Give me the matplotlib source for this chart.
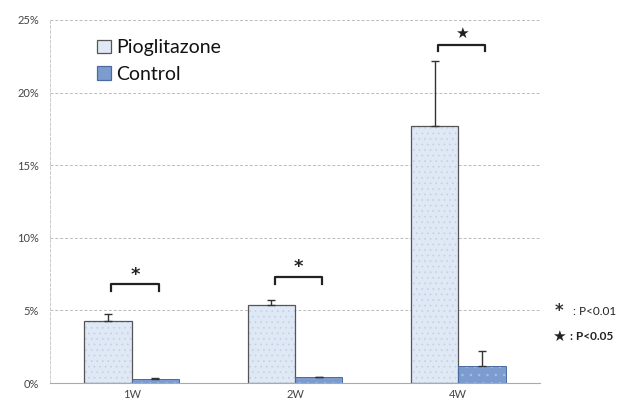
import matplotlib
matplotlib.use("Agg")
import matplotlib.pyplot as plt
import numpy as np
from matplotlib.ticker import FuncFormatter
from matplotlib.patches import Patch

plt.rcParams['font.family'] = ['Lato', 'DejaVu Sans']
plt.rcParams['hatch.linewidth'] = 0.5

categories = ["1W", "2W", "4W"]
pio = [4.3, 5.4, 17.7]
pio_err = [0.45, 0.3, 4.5]
ctrl = [0.3, 0.4, 1.2]
ctrl_err = [0.05, 0.05, 1.0]
yticks = [0, 5, 10, 15, 20, 25]
bracket_y = [6.8, 7.3, 23.3]
sig_marks = ["*", "*", "★"]

fig = plt.figure(figsize=(6.33, 4.05), dpi=100)
ax = fig.add_axes([0.079, 0.054, 0.774, 0.897])

x = np.arange(len(categories))
w = 0.29
# fills with subtle texture
ax.bar(x - w/2, pio, w, color="#dfe8f5", edgecolor="#c3d0e6", linewidth=0,
       hatch="...", zorder=3)
ax.bar(x + w/2, ctrl, w, color="#7c9cd0", edgecolor="#a9bfe4", linewidth=0,
       hatch="..", zorder=3)
# outlines
ax.bar(x - w/2, pio, w, fill=False, edgecolor="#555555", linewidth=0.9, zorder=3.5)
ax.bar(x + w/2, ctrl, w, fill=False, edgecolor="#4a6aa0", linewidth=0.7, zorder=3.5)
ax.errorbar(x - w/2, pio, yerr=[np.zeros(3), pio_err], fmt="none", ecolor="#333333",
            elinewidth=1.0, capsize=3, capthick=1.0, zorder=4)
ax.errorbar(x + w/2, ctrl, yerr=[np.zeros(3), ctrl_err], fmt="none", ecolor="#333333",
            elinewidth=1.0, capsize=3, capthick=1.0, zorder=4)

# significance brackets
for xi, by, m in zip(x, bracket_y, sig_marks):
    x0, x1 = xi - w/2 + 0.02, xi + w/2 + 0.02
    ax.plot([x0, x0, x1, x1], [by - 0.45, by, by, by - 0.45], color="#222222",
            lw=1.6, zorder=5, clip_on=False)
    if m == "*":
        ax.text((x0 + x1)/2, by + 0.05, m, ha="center", va="bottom", fontsize=13,
                fontweight="bold", color="#222222", family="DejaVu Sans")
    else:
        ax.text((x0 + x1)/2, by + 0.25, m, ha="center", va="bottom", fontsize=11,
                color="#222222", family="DejaVu Sans")

ax.set_xlim(-0.5, 2.5)
ax.set_ylim(0, 25)
ax.set_yticks(yticks)
ax.yaxis.set_major_formatter(FuncFormatter(lambda v, p: f"{int(v)}%"))
ax.set_xticks(x)
ax.set_xticklabels(categories)
ax.tick_params(axis="both", length=0, labelsize=8, colors="#444444")
ax.tick_params(axis="y", pad=8)
ax.tick_params(axis="x", pad=4)
ax.grid(axis="y", color="#bbbbbb", linestyle=(0, (3, 2)), linewidth=0.7, zorder=0)
for s in ["top", "right"]:
    ax.spines[s].set_visible(False)
ax.spines["left"].set_color("#cccccc")
ax.spines["left"].set_linestyle((0, (3, 2)))
ax.spines["left"].set_linewidth(0.7)
ax.spines["bottom"].set_color("#aaaaaa")
ax.spines["bottom"].set_linewidth(0.8)

handles = [Patch(facecolor="#dfe8f5", edgecolor="#555555", linewidth=0.9, label="Pioglitazone"),
           Patch(facecolor="#7c9cd0", edgecolor="#4a6aa0", linewidth=0.9, label="Control")]
leg = ax.legend(handles=handles, loc="upper left", bbox_to_anchor=(0.06, 0.995),
                frameon=False, fontsize=14, handlelength=0.7, handleheight=0.7,
                handletextpad=0.3, labelspacing=0.5)
for t in leg.get_texts():
    t.set_color("#111111")

fig.text(0.883, 0.232, "*", fontsize=12, color="#333333", ha="center", va="center",
         family="DejaVu Sans", fontweight="bold")
fig.text(0.905, 0.232, ": P<0.01", fontsize=8.5, color="#222222", ha="left", va="center")
fig.text(0.883, 0.170, "★", fontsize=11, color="#222222", ha="center", va="center",
         family="DejaVu Sans")
fig.text(0.900, 0.170, ": P<0.05", fontsize=8.5, color="#222222", ha="left", va="center",
         fontweight="bold")

fig.savefig("out.png", dpi=100)
